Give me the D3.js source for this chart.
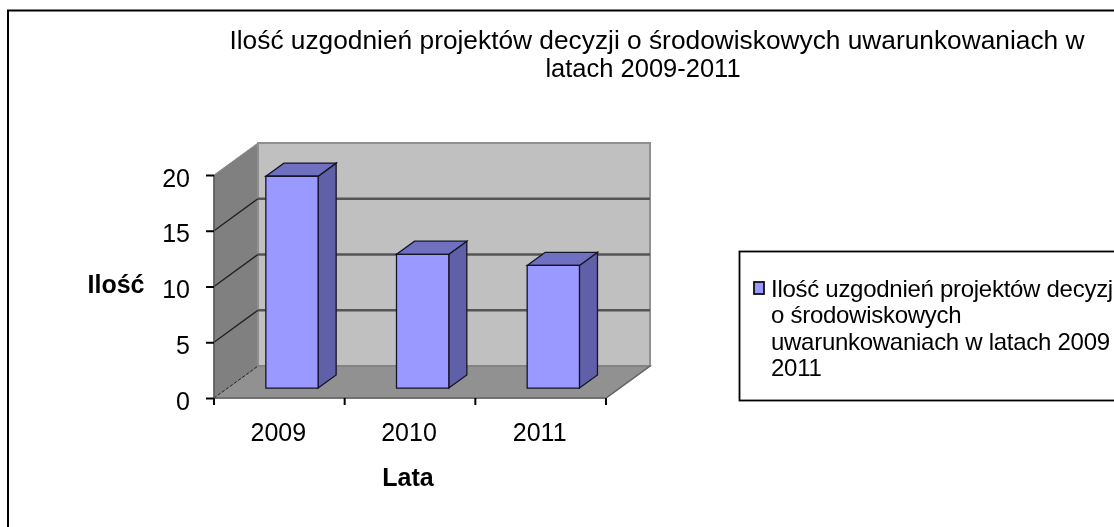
<!DOCTYPE html>
<html><head><meta charset="utf-8">
<script src="https://cdnjs.cloudflare.com/ajax/libs/d3/7.8.5/d3.min.js"></script>
<style>html,body{margin:0;padding:0;background:#fff;overflow:hidden}svg{display:block}text{font-family:"Liberation Sans",Arial,sans-serif;fill:#000}</style>
</head><body><svg id="c" width="1114" height="527"></svg>
<script>
const categories = ["2009","2010","2011"];
const values = [19,12,11];
const yTicks = [0,5,10,15,20];
const titleLines = ["Ilość uzgodnień projektów decyzji o środowiskowych uwarunkowaniach w","latach 2009-2011"];
const legendLines = ["Ilość uzgodnień projektów decyzj","o środowiskowych","uwarunkowaniach w latach 2009","2011"];
const xTitle = "Lata", yTitle = "Ilość";

const svg = d3.select("#c");
const root = svg.append("g").attr("filter","url(#soft)");
const f = svg.append("defs").append("filter").attr("id","soft").attr("filterUnits","userSpaceOnUse").attr("x",0).attr("y",0).attr("width",1114).attr("height",527);
f.append("feGaussianBlur").attr("stdDeviation",0.45);
const x0=214,x1=606,yB=398,yT=175,dxD=44,dyD=-32;
const y = d3.scaleLinear().domain([0,20]).range([yB,yT]);
const dx = d3.scaleLinear().domain([0,1]).range([0,dxD]);
const dy = d3.scaleLinear().domain([0,1]).range([0,dyD]);
const depthFront=0.31, depthBack=0.72;
const band = d3.scaleBand().domain(categories).range([x0-1,x1-1]).paddingInner(0.6).paddingOuter(0.3);
const P = (px,v,d)=>[px+dx(d), y(v)+dy(d)];
const poly = pts => pts.map(p=>p.join(",")).join(" ");

root.append("rect").attr("x",0).attr("y",0).attr("width",1114).attr("height",527).attr("fill","#fff");
root.append("rect").attr("x",8).attr("y",10.5).attr("width",1200).attr("height",700).attr("fill","#fff").attr("stroke","#000").attr("stroke-width",2);

// walls
root.append("polygon").attr("points",poly([P(x0,0,0),P(x0,20,0),P(x0,20,1),P(x0,0,1)])).attr("fill","#808080").attr("stroke","#8a8a8a");
root.append("polygon").attr("points",poly([P(x0,0,1),P(x0,20,1),P(x1,20,1),P(x1,0,1)])).attr("fill","#c0c0c0").attr("stroke","#8f8f8f").attr("stroke-width",2);
root.append("polygon").attr("points",poly([P(x0,0,0),P(x0,0,1),P(x1,0,1),P(x1,0,0)])).attr("fill","#919191").attr("stroke","#808080").attr("stroke-width",1.5);

// gridlines
yTicks.filter(t=>t>0&&t<20).forEach(t=>{
  root.append("polyline").attr("points",poly([P(x0,t,0),P(x0,t,1)])).attr("fill","none").attr("stroke","#222").attr("stroke-width",1.4);
  root.append("polyline").attr("points",poly([P(x0,t,1),P(x1,t,1)])).attr("fill","none").attr("stroke","#555").attr("stroke-width",2.6);
});
root.append("line").attr("x1",P(x0,0,0)[0]).attr("y1",P(x0,0,0)[1]).attr("x2",P(x0,0,1)[0]).attr("y2",P(x0,0,1)[1]).attr("stroke","#222").attr("stroke-dasharray","3,2").attr("stroke-width",1);
root.append("line").attr("x1",x0).attr("y1",y(20)).attr("x2",x0).attr("y2",y(0)).attr("stroke","#555").attr("stroke-width",1.5);
root.append("line").attr("x1",x0).attr("y1",y(0)).attr("x2",x1).attr("y2",y(0)).attr("stroke","#666").attr("stroke-width",1.5);
root.append("line").attr("x1",x1).attr("y1",y(0)).attr("x2",P(x1,0,1)[0]).attr("y2",P(x1,0,1)[1]).attr("stroke","#666").attr("stroke-width",1.5);

// bars
categories.forEach((c,i)=>{
  const l=band(c), r=l+band.bandwidth(), v=values[i];
  root.append("polygon").attr("points",poly([P(r,0,depthFront),P(r,v,depthFront),P(r,v,depthBack),P(r,0,depthBack)])).attr("fill","#6060a8").attr("stroke","#14142a").attr("stroke-width",1.3);
  root.append("polygon").attr("points",poly([P(l,v,depthFront),P(l,v,depthBack),P(r,v,depthBack),P(r,v,depthFront)])).attr("fill","#7070c0").attr("stroke","#14142a").attr("stroke-width",1.3);
  root.append("polygon").attr("points",poly([P(l,0,depthFront),P(l,v,depthFront),P(r,v,depthFront),P(r,0,depthFront)])).attr("fill","#9999ff").attr("stroke","#14142a").attr("stroke-width",1.3);
});

// axes
const yAxis = d3.axisLeft(y).tickValues(yTicks).tickSize(8).tickPadding(16);
const gy = root.append("g").attr("transform",`translate(${x0},0)`).call(yAxis);
gy.select(".domain").remove();
gy.attr("font-family",null);
gy.selectAll("line").attr("stroke","#000").attr("stroke-width",2);
gy.selectAll("text").attr("font-size",25).attr("dy","0.44em");

const xEdge = d3.scaleLinear().domain([0,categories.length]).range([x0,x1]);
const xTickAt = d3.range(categories.length+1);
root.append("g").selectAll("line").data(xTickAt).join("line")
  .attr("x1",d=>xEdge(d)).attr("x2",d=>xEdge(d)).attr("y1",yB).attr("y2",yB+7).attr("stroke","#000").attr("stroke-width",2);
root.append("g").selectAll("text").data(categories).join("text")
  .attr("x",(d,i)=>xEdge(i+0.5)-1).attr("y",441).attr("text-anchor","middle").attr("font-size",25).text(d=>d);

root.append("text").attr("x",408).attr("y",486).attr("text-anchor","middle").attr("font-size",25).attr("font-weight","bold").text(xTitle);
root.append("text").attr("x",116).attr("y",293).attr("text-anchor","middle").attr("font-size",25).attr("font-weight","bold").text(yTitle);

root.append("g").selectAll("text").data(titleLines).join("text")
  .attr("x",(d,i)=>i===0?657:643).attr("y",(d,i)=>49+i*28).attr("text-anchor","middle")
  .attr("font-size",(d,i)=>i===0?26.3:25.5).text(d=>d);

// legend
root.append("rect").attr("x",739.5).attr("y",251.5).attr("width",500).attr("height",149).attr("fill","#fff").attr("stroke","#000").attr("stroke-width",1.8);
root.append("rect").attr("x",754).attr("y",282).attr("width",10).attr("height",12).attr("fill","#9999ff").attr("stroke","#111").attr("stroke-width",1.8);
root.append("g").selectAll("text").data(legendLines).join("text")
  .attr("x",771).attr("y",(d,i)=>297+i*26.4).attr("font-size",24).attr("letter-spacing",-0.28).text(d=>d);
</script></body></html>
